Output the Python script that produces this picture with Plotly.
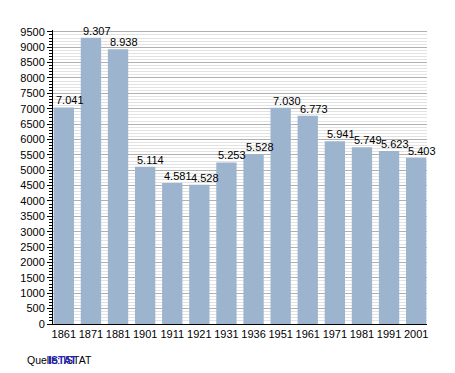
import plotly.graph_objects as go

years = ["1861", "1871", "1881", "1901", "1911", "1921", "1931", "1936", "1951", "1961", "1971", "1981", "1991", "2001"]
population = [7041, 9307, 8938, 5114, 4581, 4528, 5253, 5528, 7030, 6773, 5941, 5749, 5623, 5403]
y_ticks = list(range(0, 10000, 500))

fig = go.Figure(go.Bar(
    x=years, y=population,
    marker=dict(color="#9db4cf", line=dict(width=0)),
    hoverinfo="x+y",
))

fig.update_layout(
    width=455, height=373,
    margin=dict(l=42, r=36, t=22, b=57),
    paper_bgcolor="white", plot_bgcolor="white",
    bargap=0.25,
    showlegend=False,
    font=dict(family="Liberation Sans, Arial", size=11, color="#000000"),
)
fig.update_yaxes(
    range=[0, 9560],
    tickvals=y_ticks, ticktext=[str(v) for v in y_ticks],
    showgrid=True, gridcolor="#b0b0b0", gridwidth=1,
    minor=dict(dtick=100, showgrid=True, gridcolor="#e2e2e2", ticks="outside", ticklen=3, tickcolor="#000"),
    ticks="outside", ticklen=5, tickcolor="#000",
    showline=True, linecolor="#000", linewidth=1,
    zeroline=False,
    tickfont=dict(size=11),
)
fig.update_xaxes(
    type="category",
    range=[-0.4, len(years) - 0.6],
    tickangle=0,
    showline=True, linecolor="#000", linewidth=1,
    ticks="", showgrid=False,
    tickfont=dict(size=11),
)

# value labels, left-aligned with each bar's left edge (x = category index)
for i, v in enumerate(population):
    fig.add_annotation(x=i, y=v, text=f"{v:,}".replace(",", "."),
                       xanchor="left", yanchor="bottom", xshift=-10, yshift=-1,
                       showarrow=False,
                       font=dict(family="Liberation Sans, Arial", size=11, color="#000"))

fig.add_annotation(text="Quelle: ISTAT", xref="paper", yref="paper", x=-0.0743, y=-0.1224,
                   xanchor="left", yanchor="middle", showarrow=False,
                   font=dict(family="Liberation Sans, Arial", size=10.5, color="#000"))
fig.add_annotation(text="<b>ISTAT</b>", xref="paper", yref="paper", x=-0.0186, y=-0.1224,
                   xanchor="left", yanchor="middle", showarrow=False,
                   font=dict(family="Liberation Sans, Arial", size=10.5, color="#2222cc"))

fig.write_html("out.html")
